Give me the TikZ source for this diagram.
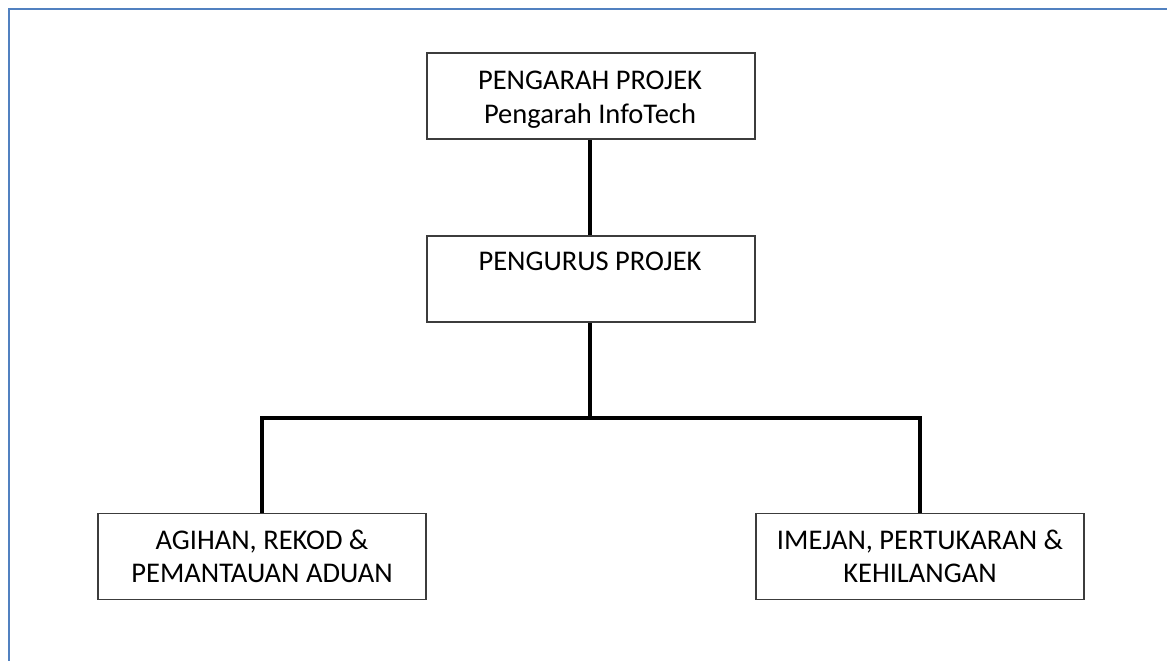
\documentclass[tikz,border=0pt]{standalone}
\usepackage{fontspec}
\setmainfont{Carlito}
\definecolor{frameblue}{HTML}{5181C0}
\definecolor{boxline}{HTML}{3C3C3C}
\tikzset{
  x=1pt, y=-1pt,
  orgbox/.style={draw=boxline, line width=1.5pt, fill=white, minimum width=328pt, minimum height=86pt, inner sep=0pt},
  label/.style={anchor=base, inner sep=0pt, font=\fontsize{28.5}{34}\selectfont},
  link/.style={line width=3.6pt, black}
}
\begin{document}
\begin{tikzpicture}
\useasboundingbox (0,0) rectangle (1167,661);
% page frame (top and left edges visible)
\begin{scope}
  \clip (0,0) rectangle (1167,661);
  \draw[frameblue, line width=2pt] (9,700) -- (9,9) -- (1200,9);
\end{scope}

% boxes
\node[orgbox] (dir) at (591,96) {};
\node[orgbox] (mgr) at (591,279) {};
\node[orgbox] (agh) at (262,556.5) {};
\node[orgbox] (img) at (920,556.5) {};

% junction points of the tree
\coordinate (jm) at (590,418);
\coordinate (jl) at (262,418);
\coordinate (jr) at (920,418);

% connectors
\draw[link] (dir.south -| jm) -- (mgr.north -| jm);
\draw[link] (mgr.south -| jm) -- (jm);
\draw[link, line join=miter] (agh.north) -- (jl) -- (jr) -- (img.north);

% texts
\node[label] (dir1) at (590,89) {PENGARAH PROJEK};
\node[label] (dir2) at (590,123) {Pengarah InfoTech};
\node[label] (mgr1) at (590,270) {PENGURUS PROJEK};
\node[label] (agh1) at (262,549) {AGIHAN, REKOD \&};
\node[label] (agh2) at (262,582) {PEMANTAUAN ADUAN};
\node[label] (img1) at (920,549) {IMEJAN, PERTUKARAN \&};
\node[label] (img2) at (920,582) {KEHILANGAN};
\end{tikzpicture}
\end{document}
